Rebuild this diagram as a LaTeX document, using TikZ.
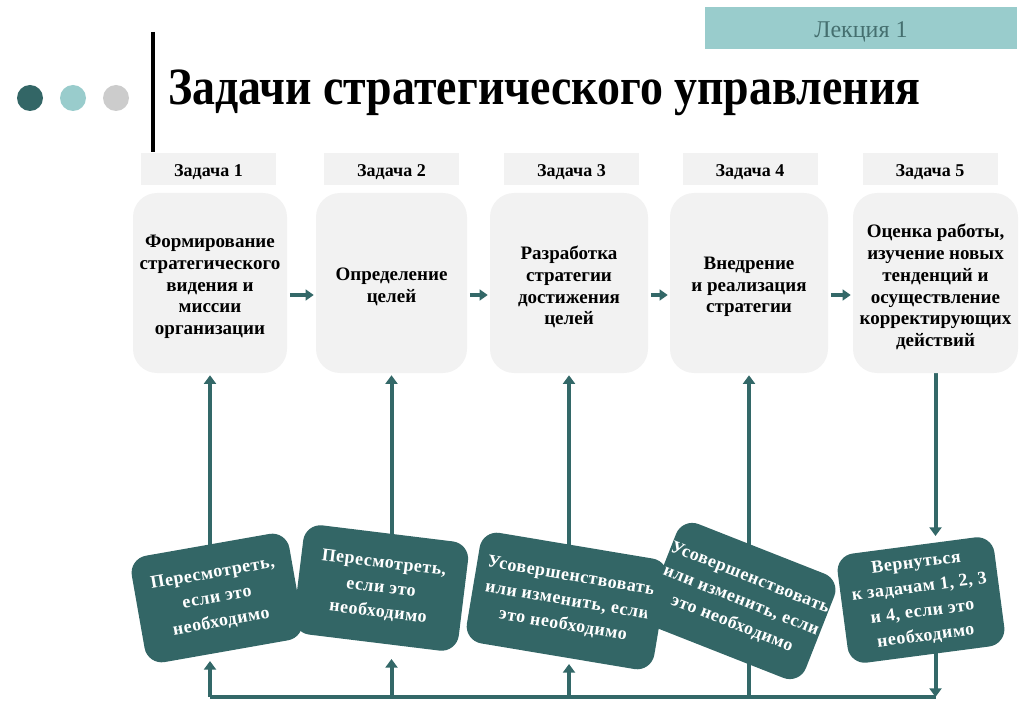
\documentclass[tikz,border=0pt]{standalone}
\usepackage{fontspec}
\setmainfont{Liberation Serif}
\usetikzlibrary{arrows.meta,calc}
\definecolor{tealdark}{HTML}{336666}
\definecolor{tealline}{HTML}{336868}
\definecolor{lightteal}{HTML}{99CCCC}
\definecolor{dotgray}{HTML}{CCCCCC}
\definecolor{boxgray}{HTML}{F2F2F2}
\definecolor{lectext}{HTML}{456F6F}
\pgfdeclarelayer{bg}
\pgfsetlayers{bg,main}
\tikzset{
  dot/.style={circle, inner sep=0pt, minimum size=19.5pt},
  lbl/.style={fill=boxgray, minimum width=101.25pt, minimum height=24pt, inner sep=0pt,
    text height=14pt, text depth=2pt,
    font=\fontsize{13.5}{15}\selectfont\bfseries},
  tbox/.style={fill=boxgray, rounded corners=18pt, minimum height=135pt, inner sep=0pt},
  ttext/.style={inner sep=0pt, align=center, font=\fontsize{14.25}{16.3}\selectfont\bfseries},
  bbox/.style={fill=tealdark, rounded corners=13pt, inner sep=0pt, text=white,
    align=center, font=\fontsize{13.5}{18.5}\selectfont\bfseries\addfontfeatures{LetterSpace=3}},
  harr/.style={draw=tealline, line width=2.4pt, -{Triangle[width=8pt,length=6pt]},
    shorten <=2pt, shorten >=1.5pt},
  varr/.style={draw=tealline, line width=3pt, -{Triangle[width=9pt,length=6.5pt]}},
  vline/.style={draw=tealline, line width=3pt},
}
\begin{document}
\begin{tikzpicture}[x=0.75pt,y=-0.75pt]
\useasboundingbox (0,0) rectangle (1024,709);

% header
\node[fill=lightteal, minimum width=234pt, minimum height=31.5pt, inner sep=0pt,
  text height=17pt, text depth=2pt,
  text=lectext, font=\fontsize{18}{20}\selectfont] (lec) at (861,28) {Лекция 1};
\node[dot, fill=tealdark] (c1) at (30,98) {};
\node[dot, fill=lightteal] (c2) at (73,98) {};
\node[dot, fill=dotgray] (c3) at (116,98) {};
\draw[line width=3pt] (153,32) -- (153,152);
\node[anchor=base west, inner sep=0pt, font=\fontsize{36}{40}\selectfont\bfseries] (title) at (168,105)
  {\scalebox{1}[1.14]{\resizebox{564pt}{!}{Задачи стратегического управления}}};

% task labels
\node[lbl] (l1) at (208.5,169) {Задача 1};
\node[lbl] (l2) at (391.5,169) {Задача 2};
\node[lbl] (l3) at (571.5,169) {Задача 3};
\node[lbl] (l4) at (750,169) {Задача 4};
\node[lbl] (l5) at (930,169) {Задача 5};

% main boxes
\node[tbox, minimum width=115.5pt] (t1) at (210,283) {};
\node[tbox, minimum width=113.25pt] (t2) at (391.5,283) {};
\node[tbox, minimum width=118.5pt] (t3) at (569,283) {};
\node[tbox, minimum width=118.5pt] (t4) at (749,283) {};
\node[tbox, minimum width=123.75pt] (t5) at (935.5,283) {};
\node[ttext] (t1x) at ([yshift=-3pt]t1.center) {Формирование\\стратегического\\видения и\\миссии\\организации};
\node[ttext] (t2x) at ([yshift=-3pt]t2.center) {Определение\\целей};
\node[ttext] (t3x) at ([yshift=-3pt]t3.center) {Разработка\\стратегии\\достижения\\целей};
\node[ttext] (t4x) at ([yshift=-3pt]t4.center) {Внедрение\\и реализация\\стратегии};
\node[ttext] (t5x) at ([yshift=-3pt]t5.center) {Оценка работы,\\изучение новых\\тенденций и\\осуществление\\корректирующих\\действий};

% bottom boxes
\node[bbox, minimum width=120pt, minimum height=81pt, rotate=10] (b1) at (217,598)
  {Пересмотреть,\\если это\\необходимо};
\node[bbox, minimum width=124.5pt, minimum height=82.5pt, rotate=-7] (b2) at (381,588)
  {Пересмотреть,\\если это\\необходимо};
\node[bbox, minimum width=142.5pt, minimum height=84pt, rotate=-9.5] (b3) at (567,601)
  {Усовершенствовать\\или изменить, если\\это необходимо};
\node[bbox, minimum width=127.5pt, minimum height=84pt, rotate=-21.5] (b4) at (741,601)
  {Усовершенствовать\\или изменить, если\\это необходимо};
\node[bbox, minimum width=118.5pt, minimum height=82.5pt, rotate=7.5] (b5) at (921,600)
  {Вернуться\\к задачам 1, 2, 3\\и 4, если это\\необходимо};

% coordinates
\coordinate (rail) at (0,697);
\coordinate (e1) at (210,661);
\coordinate (e2) at (391.5,659);
\coordinate (e3) at (569,664);
\coordinate (e5) at (935.5,536);

\begin{pgfonlayer}{bg}
  % horizontal arrows
  \draw[harr] ([yshift=-9pt]t1.east) -- ([yshift=-9pt]t2.west);
  \draw[harr] ([yshift=-9pt]t2.east) -- ([yshift=-9pt]t3.west);
  \draw[harr] ([yshift=-9pt]t3.east) -- ([yshift=-9pt]t4.west);
  \draw[harr] ([yshift=-9pt]t4.east) -- ([yshift=-9pt]t5.west);
  % up arrows to main boxes
  \draw[varr] (t1.south |- b1.center) -- ([yshift=-1.5pt]t1.south);
  \draw[varr] (t2.south |- b2.center) -- ([yshift=-1.5pt]t2.south);
  \draw[varr] (t3.south |- b3.center) -- ([yshift=-1.5pt]t3.south);
  \draw[varr] (t4.south |- b4.center) -- ([yshift=-1.5pt]t4.south);
  % down arrow from task 5
  \draw[varr] (t5.south) -- (e5);
  % rail
  \draw[vline] (t1.south |- rail) -- (t5.south |- rail);
  \draw[varr] (t5.south |- b5.center) -- (t5.south |- rail);
  \draw[varr] (t1.south |- rail) -- (e1);
  \draw[varr] (t2.south |- rail) -- (e2);
  \draw[varr] (t3.south |- rail) -- (e3);
  \draw[vline] (t4.south |- rail) -- (t4.south |- b4.center);
\end{pgfonlayer}
\end{tikzpicture}
\end{document}
